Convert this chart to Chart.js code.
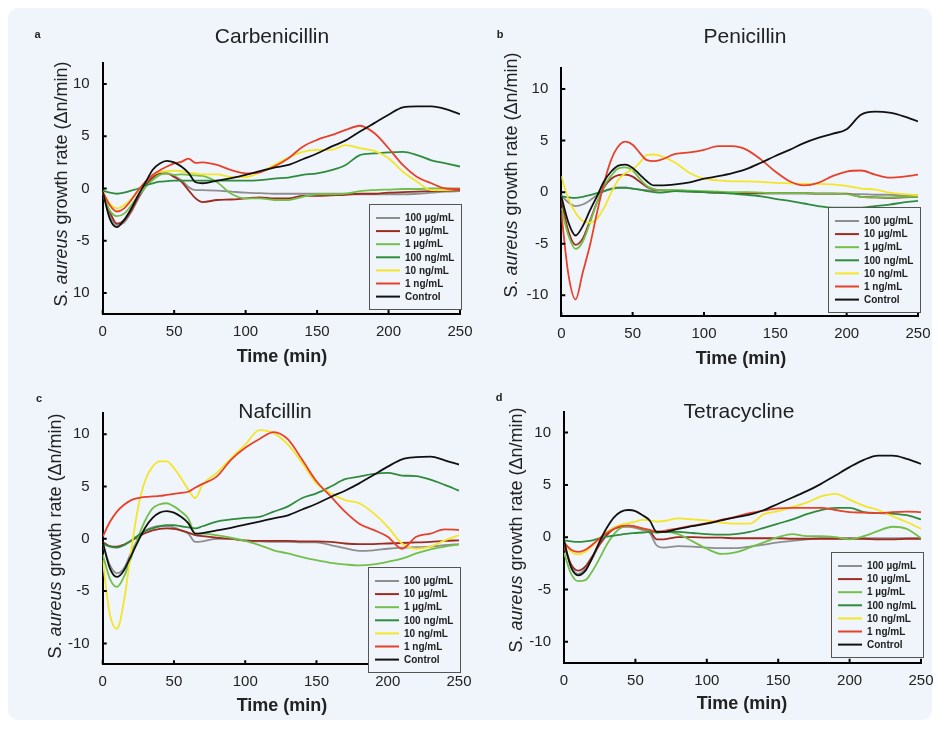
<!DOCTYPE html>
<html>
<head>
<meta charset="utf-8">
<title>S. aureus growth rate</title>
<script src="https://cdn.jsdelivr.net/npm/chart.js@4.4.0/dist/chart.umd.min.js"></script>
<style>
	body { margin: 0; background: #fff; width: 949px; height: 737px; overflow: hidden; }
	#bg { position: absolute; left: 8px; top: 8px; width: 924px; height: 712px; background: #f0f5fb; border-radius: 10px; }
	canvas { position: absolute; }
</style>
</head>
<body>
<div id="bg"></div>
<canvas id="chartA" width="474" height="370" style="left:0;top:0"></canvas>
<canvas id="chartB" width="475" height="370" style="left:474px;top:0"></canvas>
<canvas id="chartC" width="474" height="367" style="left:0;top:370px"></canvas>
<canvas id="chartD" width="475" height="367" style="left:474px;top:370px"></canvas>

<script>
// time points (min), shared by every series
const TIME = [0, 5, 10, 15, 20, 25, 30, 35, 40, 45, 50, 55, 60, 65, 70, 80, 90, 100, 110, 120, 130, 140, 150, 160, 170, 180, 190, 200, 210, 220, 230, 240, 250];
const SERIES = ['100 µg/mL', '10 µg/mL', '1 µg/mL', '100 ng/mL', '10 ng/mL', '1 ng/mL', 'Control'];
const X_TICKS = [0, 50, 100, 150, 200, 250];
const Y_TICKS = [-10, -5, 0, 5, 10];
const Y_LABELS_A = ['10', '-5', '0', '5', '10'];
const Y_LABELS = ['-10', '-5', '0', '5', '10'];

// a - Carbenicillin
const carb100ug = [-0.4, -2.6, -3.5, -3.25, -2.25, -0.95, 0.15, 0.95, 1.35, 1.45, 1.2, 0.8, 0.15, -0.15, -0.15, -0.2, -0.3, -0.4, -0.45, -0.5, -0.5, -0.5, -0.5, -0.5, -0.5, -0.55, -0.55, -0.55, -0.55, -0.5, -0.4, -0.3, -0.25];
const carb10ug = [-0.4, -2.25, -3.35, -3.05, -2.1, -0.8, 0.3, 1.1, 1.45, 1.45, 1.1, 0.65, -0.15, -0.95, -1.3, -1.1, -1.05, -0.95, -0.85, -0.95, -0.95, -0.7, -0.7, -0.65, -0.6, -0.5, -0.5, -0.4, -0.35, -0.3, -0.25, -0.2, -0.15];
const carb1ug = [-0.5, -2.1, -2.65, -2.4, -1.6, -0.65, 0.15, 0.8, 1.3, 1.45, 1.3, 1.35, 1.3, 1.25, 1.2, 0.6, -0.5, -0.95, -0.95, -1.1, -1.1, -0.8, -0.55, -0.55, -0.5, -0.25, -0.15, -0.1, -0.05, -0.05, 0, 0, 0];
const carb100ng = [-0.2, -0.4, -0.5, -0.4, -0.2, 0, 0.3, 0.5, 0.65, 0.7, 0.75, 0.75, 0.75, 0.75, 0.75, 0.75, 0.75, 0.75, 0.8, 0.95, 1.05, 1.3, 1.45, 1.75, 2.25, 3.2, 3.35, 3.45, 3.5, 3.2, 2.7, 2.4, 2.1];
const carb10ng = [-0.3, -1.45, -1.9, -1.6, -1.0, -0.15, 0.65, 1.3, 1.6, 1.65, 1.7, 1.65, 1.5, 1.45, 1.35, 1.35, 1.1, 1.1, 1.55, 2.25, 2.95, 3.5, 3.7, 3.7, 4.15, 3.85, 3.6, 2.9, 1.6, 0.65, -0.15, -0.15, -0.05];
const carb1ng = [-0.3, -1.6, -2.2, -1.9, -1.1, -0.15, 0.65, 1.3, 1.75, 2.1, 2.4, 2.55, 2.85, 2.45, 2.5, 2.25, 1.75, 1.45, 1.55, 2.1, 2.9, 4.0, 4.65, 5.1, 5.6, 6.0, 5.3, 3.85, 2.25, 1.1, 0.5, 0, -0.05];
const carbControl = [-0.3, -2.9, -3.7, -3.0, -1.9, -0.6, 0.6, 1.8, 2.4, 2.65, 2.5, 2.1, 1.5, 0.6, 0.5, 0.75, 1.0, 1.3, 1.65, 2.0, 2.25, 2.8, 3.35, 4.0, 4.6, 5.45, 6.25, 7.05, 7.75, 7.85, 7.85, 7.6, 7.1];

// b - Penicillin
const pen100ug = [-0.3, -1.0, -1.35, -1.2, -0.8, -0.3, 0.1, 0.35, 0.45, 0.45, 0.35, 0.25, 0.2, 0.15, 0.15, 0.1, 0.05, 0, -0.05, -0.1, -0.1, -0.15, -0.15, -0.15, -0.15, -0.15, -0.15, -0.2, -0.2, -0.25, -0.25, -0.3, -0.3];
const pen10ug = [-0.8, -3.8, -5.1, -4.5, -2.8, -1.0, 0.5, 1.3, 1.65, 1.7, 1.5, 1.0, 0.5, 0.25, 0.2, 0.15, 0.1, 0, -0.05, -0.1, -0.1, -0.1, -0.1, -0.1, -0.1, -0.15, -0.15, -0.15, -0.45, -0.5, -0.55, -0.5, -0.45];
const pen1ug = [-1.5, -4.2, -5.5, -4.8, -3.0, -1.0, 0.6, 1.6, 2.3, 2.4, 2.1, 1.3, 0.6, 0.3, 0.2, 0.2, 0.15, 0.1, 0.05, 0, 0, -0.05, -0.1, -0.1, -0.1, -0.15, -0.15, -0.2, -0.45, -0.5, -0.5, -0.45, -0.45];
const pen100ng = [-0.4, -0.5, -0.55, -0.45, -0.3, -0.1, 0.1, 0.3, 0.42, 0.42, 0.35, 0.25, 0.1, 0, -0.05, 0.1, 0.05, 0, -0.05, -0.15, -0.25, -0.4, -0.65, -0.85, -1.1, -1.35, -1.5, -1.5, -1.5, -1.35, -1.2, -1.0, -0.85];
const pen10ng = [1.55, -0.7, -2.0, -2.8, -2.95, -2.6, -1.5, -0.05, 1.2, 1.85, 2.2, 2.85, 3.6, 3.65, 3.5, 2.85, 1.85, 1.3, 1.15, 1.05, 1.05, 1.0, 0.9, 0.85, 0.8, 0.8, 0.75, 0.6, 0.35, 0.25, -0.05, -0.2, -0.3];
const pen1ng = [-2.0, -8.0, -10.4, -7.8, -5.2, -2.0, 0.9, 3.15, 4.45, 4.9, 4.6, 3.8, 3.1, 3.0, 3.15, 3.7, 3.85, 4.1, 4.45, 4.45, 4.1, 3.15, 2.0, 1.05, 0.65, 0.9, 1.55, 2.0, 2.1, 1.7, 1.4, 1.5, 1.7];
const penControl = [-0.4, -2.95, -4.2, -3.3, -1.8, -0.4, 1.05, 2.0, 2.57, 2.67, 2.35, 1.7, 1.05, 0.65, 0.65, 0.75, 0.95, 1.3, 1.55, 1.85, 2.25, 2.85, 3.5, 4.1, 4.75, 5.25, 5.65, 6.1, 7.5, 7.8, 7.7, 7.35, 6.85];

// c - Nafcillin
const naf100ug = [-0.5, -2.5, -3.3, -2.8, -1.3, 0.0, 0.8, 1.1, 1.2, 1.2, 1.1, 0.8, 0.5, -0.3, -0.25, 0, 0, -0.2, -0.25, -0.3, -0.3, -0.35, -0.35, -0.6, -0.9, -1.15, -1.1, -0.95, -0.85, -0.8, -0.75, -0.6, -0.5];
const naf10ug = [-0.3, -0.7, -0.75, -0.55, -0.2, 0.2, 0.55, 0.8, 0.95, 1.0, 0.95, 0.8, 0.6, 0.35, 0.25, 0.1, 0, -0.15, -0.2, -0.2, -0.2, -0.25, -0.25, -0.3, -0.45, -0.5, -0.5, -0.45, -0.4, -0.35, -0.3, -0.2, -0.15];
const naf1ug = [-1.5, -3.8, -4.6, -3.6, -1.8, 0.2, 1.8, 2.9, 3.3, 3.4, 3.1, 2.6, 1.95, 0.5, 0.5, 0.35, 0.1, -0.2, -0.6, -1.1, -1.4, -1.75, -2.05, -2.3, -2.45, -2.55, -2.45, -2.2, -1.9, -1.4, -1.0, -0.75, -0.55];
const naf100ng = [-0.45, -0.75, -0.85, -0.6, -0.15, 0.35, 0.75, 1.0, 1.2, 1.3, 1.3, 1.2, 1.1, 1.0, 1.2, 1.65, 1.85, 2.0, 2.1, 2.6, 3.1, 3.9, 4.35, 5.0, 5.7, 5.95, 6.2, 6.3, 6.05, 6.0, 5.65, 5.15, 4.6];
const naf10ng = [-2.05, -7.2, -8.6, -5.9, -1.1, 3.1, 5.65, 6.9, 7.4, 7.4, 6.75, 5.8, 4.7, 3.9, 5.15, 6.3, 7.7, 9.0, 10.4, 10.1, 9.0, 7.25, 5.3, 4.35, 3.7, 3.4, 2.45, 1.15, -0.45, -0.95, -0.75, -0.15, 0.35];
const naf1ng = [0.2, 1.6, 2.6, 3.25, 3.7, 3.9, 4.0, 4.05, 4.1, 4.2, 4.3, 4.4, 4.5, 4.9, 5.25, 5.95, 7.55, 8.7, 9.55, 10.2, 9.5, 7.55, 5.5, 4.05, 2.6, 1.45, 0.85, 0.2, -0.95, 0.2, 0.5, 0.9, 0.85];
const nafControl = [-0.3, -2.8, -3.65, -3.0, -1.6, -0.2, 1.1, 2.0, 2.5, 2.65, 2.5, 2.1, 1.5, 0.5, 0.55, 0.8, 1.05, 1.35, 1.65, 1.95, 2.25, 2.8, 3.35, 4.0, 4.6, 5.3, 6.1, 6.9, 7.6, 7.8, 7.85, 7.5, 7.1];

// d - Tetracycline
const tet100ug = [-0.8, -2.8, -3.5, -3.0, -2.0, -0.6, 0.3, 0.9, 1.0, 1.0, 0.9, 0.7, 0.4, -0.8, -1.0, -0.85, -0.9, -1.0, -1.05, -1.05, -0.9, -0.7, -0.5, -0.35, -0.2, -0.1, -0.1, -0.1, -0.1, -0.1, -0.1, -0.1, -0.1];
const tet10ug = [-0.8, -2.6, -3.2, -2.8, -1.8, -0.7, 0.2, 0.8, 1.0, 1.1, 1.0, 0.8, 0.6, -0.2, -0.2, 0, 0, -0.05, -0.05, -0.1, -0.1, -0.1, -0.1, -0.15, -0.15, -0.15, -0.15, -0.15, -0.15, -0.2, -0.2, -0.15, -0.15];
const tet1ug = [-1.5, -3.5, -4.2, -4.1, -3.2, -2.0, -0.7, 0.3, 0.9, 1.05, 0.95, 0.8, 0.6, 0.4, 0.5, 0.3, -0.4, -1.1, -1.6, -1.45, -1.0, -0.5, 0, 0.3, 0.1, 0.1, 0, -0.2, 0.1, 0.6, 1.0, 0.8, -0.1];
const tet100ng = [-0.3, -0.4, -0.45, -0.4, -0.3, -0.1, 0.05, 0.15, 0.25, 0.35, 0.4, 0.45, 0.5, 0.5, 0.5, 0.5, 0.4, 0.3, 0.25, 0.3, 0.5, 0.9, 1.3, 1.7, 2.2, 2.6, 2.8, 2.8, 2.4, 2.3, 2.25, 2.1, 1.7];
const tet10ng = [-0.5, -1.4, -1.65, -1.4, -0.8, -0.1, 0.5, 0.9, 1.2, 1.35, 1.5, 1.65, 1.6, 1.5, 1.55, 1.8, 1.7, 1.6, 1.4, 1.3, 1.3, 2.2, 2.5, 2.9, 3.3, 3.9, 4.15, 3.6, 3.0, 2.6, 2.0, 1.45, 0.8];
const tet1ng = [-0.5, -1.2, -1.4, -1.2, -0.7, -0.1, 0.4, 0.8, 1.05, 1.1, 1.0, 0.85, 0.7, 0.55, 0.6, 0.85, 1.1, 1.35, 1.65, 1.95, 2.3, 2.55, 2.75, 2.8, 2.8, 2.8, 2.6, 2.4, 2.35, 2.3, 2.4, 2.45, 2.4];
const tetControl = [-0.3, -2.9, -3.65, -3.2, -1.9, -0.4, 0.9, 1.9, 2.45, 2.6, 2.5, 2.1, 1.6, 0.5, 0.5, 0.8, 1.05, 1.3, 1.6, 1.9, 2.15, 2.6, 3.2, 3.8, 4.4, 5.1, 5.9, 6.7, 7.4, 7.8, 7.8, 7.5, 7.0];

const COLORS = ['#8e8e8e', '#9e2b1f', '#72c04a', '#2f8c3d', '#f3e52a', '#e8412b', '#111111'];
const BG = '#f0f5fb';
const FONT = '"Liberation Sans", Arial, sans-serif';

// page geometry of each panel: canvas box, plot area, and text anchors
const panels = [
	{ id: 'chartA', cx: 0, cy: 0, w: 474, h: 370, L: 102.7, T: 63, R: 460, B: 314,
		letter: 'a', lx: 37.5, ly: 35, title: 'Carbenicillin', tx: 272, ty: 37,
		xtX: 282, xtY: 357, ytX: 62, ytY: 184, legX: 369, legY: 204, yLabels: Y_LABELS_A,
		series: [carb100ug, carb10ug, carb1ug, carb100ng, carb10ng, carb1ng, carbControl] },
	{ id: 'chartB', cx: 474, cy: 0, w: 475, h: 370, L: 561.3, T: 68.3, R: 918, B: 316,
		letter: 'b', lx: 500, ly: 35, title: 'Penicillin', tx: 745, ty: 37,
		xtX: 741, xtY: 359, ytX: 512, ytY: 175, legX: 828, legY: 207, yLabels: Y_LABELS,
		series: [pen100ug, pen10ug, pen1ug, pen100ng, pen10ng, pen1ng, penControl] },
	{ id: 'chartC', cx: 0, cy: 370, w: 474, h: 367, L: 102.7, T: 413.3, R: 459, B: 664.3,
		letter: 'c', lx: 39, ly: 399, title: 'Nafcillin', tx: 275, ty: 412,
		xtX: 282, xtY: 706, ytX: 56, ytY: 536, legX: 368, legY: 567, yLabels: Y_LABELS,
		series: [naf100ug, naf10ug, naf1ug, naf100ng, naf10ng, naf1ng, nafControl] },
	{ id: 'chartD', cx: 474, cy: 370, w: 475, h: 367, L: 564, T: 411.7, R: 921, B: 662.7,
		letter: 'd', lx: 499, ly: 398, title: 'Tetracycline', tx: 739, ty: 412,
		xtX: 742, xtY: 704, ytX: 517, ytY: 530, legX: 831, legY: 552, yLabels: Y_LABELS,
		series: [tet100ug, tet10ug, tet1ug, tet100ng, tet10ng, tet1ng, tetControl] }
];

const decor = {
	id: 'decor',
	afterDatasetsDraw(chart, args, o) {
		const ctx = chart.ctx, xs = chart.scales.x, ys = chart.scales.y;
		const p = o.panel;
		ctx.save();
		// small inward ticks
		ctx.strokeStyle = '#000';
		ctx.lineWidth = 2;
		ctx.beginPath();
		X_TICKS.forEach(v => {
			const px = xs.getPixelForValue(v);
			ctx.moveTo(px, ys.bottom); ctx.lineTo(px, ys.bottom - 4);
		});
		Y_TICKS.forEach(v => {
			const py = ys.getPixelForValue(v);
			ctx.moveTo(xs.left, py); ctx.lineTo(xs.left + 4, py);
		});
		ctx.stroke();

		// legend box
		const bx = p.legX - p.cx, by = p.legY - p.cy;
		ctx.fillStyle = BG;
		ctx.fillRect(bx, by, 92, 105);
		ctx.strokeStyle = '#555';
		ctx.lineWidth = 1;
		ctx.strokeRect(bx + 0.5, by + 0.5, 92, 105);
		ctx.font = 'bold 10px ' + FONT;
		ctx.textBaseline = 'middle';
		ctx.textAlign = 'left';
		chart.data.datasets.forEach((ds, i) => {
			const ry = by + 14 + i * 13.1;
			ctx.strokeStyle = ds.borderColor;
			ctx.lineWidth = 2;
			ctx.beginPath();
			ctx.moveTo(bx + 7, ry); ctx.lineTo(bx + 31, ry);
			ctx.stroke();
			ctx.fillStyle = '#222';
			ctx.fillText(ds.label, bx + 36, ry + 0.5);
		});
		ctx.restore();
	},
	afterDraw(chart, args, o) {
		const ctx = chart.ctx, p = o.panel;
		ctx.save();
		ctx.fillStyle = '#222';
		ctx.textBaseline = 'middle';
		ctx.textAlign = 'center';
		ctx.font = 'bold 11px ' + FONT;
		ctx.fillText(p.letter, p.lx - p.cx, p.ly - p.cy);
		ctx.font = '21px ' + FONT;
		ctx.fillText(p.title, p.tx - p.cx, p.ty - p.cy);
		ctx.font = 'bold 18px ' + FONT;
		ctx.fillText('Time (min)', p.xtX - p.cx, p.xtY - p.cy);

		// y title with italic species name
		const parts = [['S. ', false], ['aureus', true], [' growth rate (\u0394n/min)', false]];
		ctx.translate(p.ytX - p.cx, p.ytY - p.cy);
		ctx.rotate(-Math.PI / 2);
		let total = 0;
		parts.forEach(q => {
			ctx.font = (q[1] ? 'italic ' : '') + '18px ' + FONT;
			total += ctx.measureText(q[0]).width;
		});
		let x0 = -total / 2;
		ctx.textAlign = 'left';
		parts.forEach(q => {
			ctx.font = (q[1] ? 'italic ' : '') + '18px ' + FONT;
			ctx.fillText(q[0], x0, 0);
			x0 += ctx.measureText(q[0]).width;
		});
		ctx.restore();
	}
};

panels.forEach(p => {
	const datasets = p.series.map((vals, i) => ({
		label: SERIES[i],
		data: TIME.map((t, k) => ({ x: t, y: vals[k] })),
		borderColor: COLORS[i],
		borderWidth: 1.8,
		pointRadius: 0,
		cubicInterpolationMode: 'monotone',
		order: 6 - i
	}));
	const tickFont = { family: FONT, size: 15 };
	new Chart(document.getElementById(p.id), {
		type: 'line',
		data: { datasets: datasets },
		options: {
			responsive: false,
			animation: false,
			devicePixelRatio: 1,
			layout: {
				padding: { left: 0, top: p.T - p.cy, right: p.cx + p.w - p.R, bottom: p.cy + p.h - p.B - 30 }
			},
			plugins: {
				legend: { display: false },
				tooltip: { enabled: false },
				decor: { panel: p }
			},
			scales: {
				x: {
					type: 'linear',
					min: 0, max: 250,
					grid: { display: false },
					border: { display: true, color: '#000', width: 2 },
					afterBuildTicks: s => { s.ticks = X_TICKS.map(v => ({ value: v })); },
					afterFit: s => { s.height = 30; },
					ticks: { font: tickFont, color: '#222', padding: 1, maxRotation: 0 }
				},
				y: {
					min: -12, max: 12,
					grid: { display: false },
					border: { display: true, color: '#000', width: 2 },
					afterBuildTicks: s => { s.ticks = Y_TICKS.map(v => ({ value: v })); },
					afterFit: s => { s.width = p.L - p.cx; },
					ticks: {
						font: tickFont, color: '#222', padding: 5,
						callback: (v) => p.yLabels[Y_TICKS.indexOf(v)]
					}
				}
			}
		},
		plugins: [decor]
	});
});
</script>
</body>
</html>
